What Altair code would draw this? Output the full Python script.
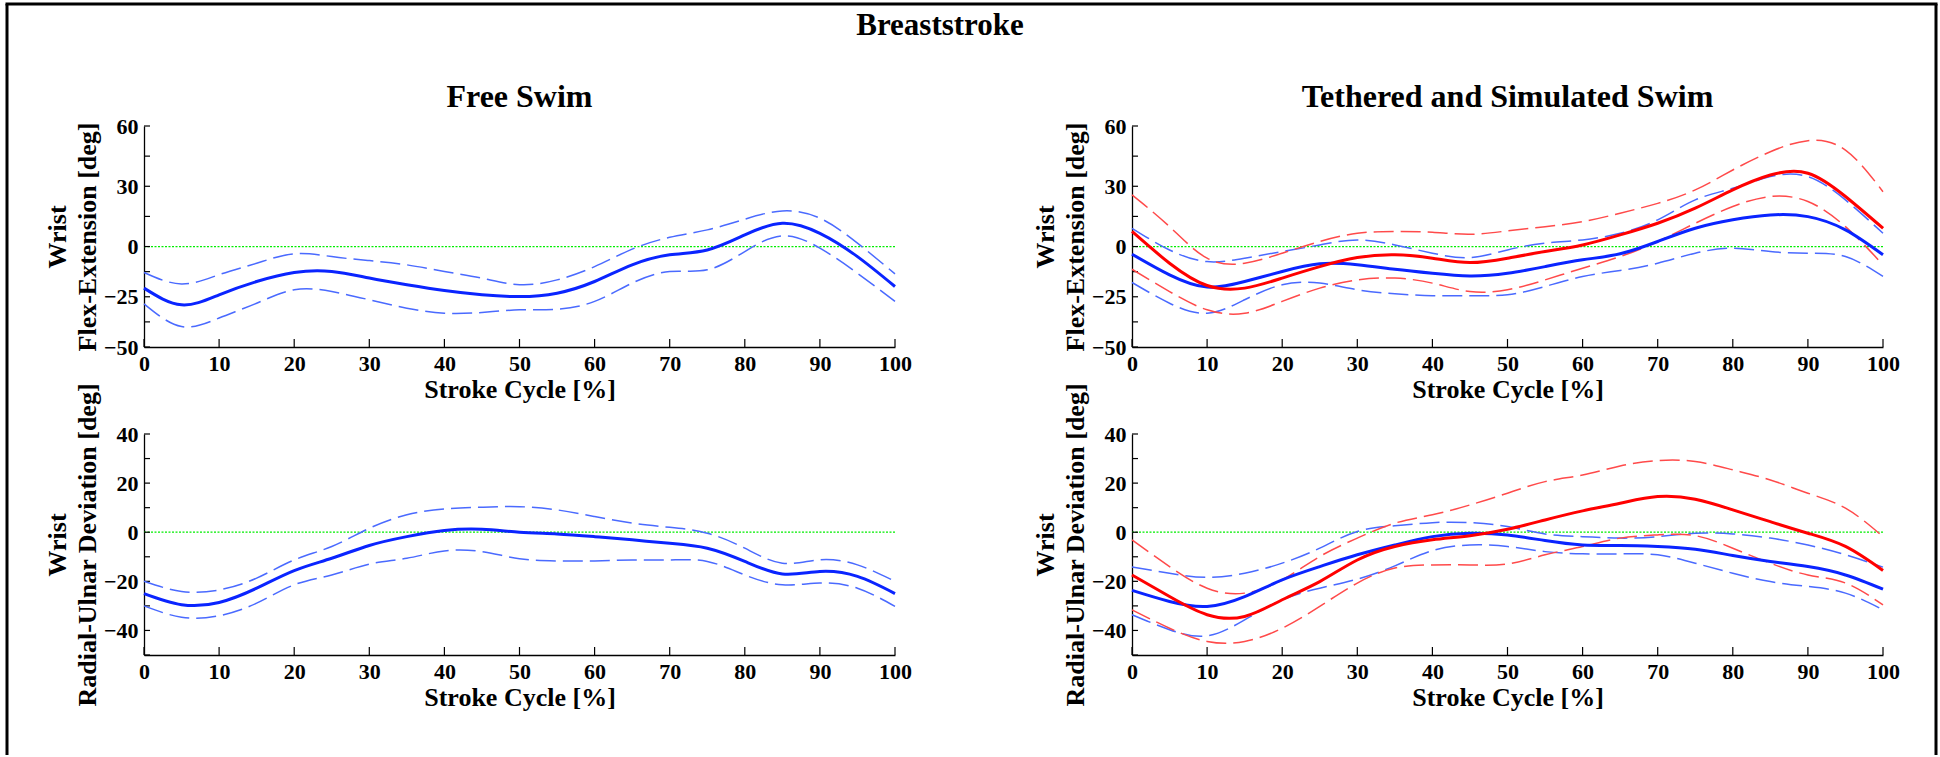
import altair as alt
import pandas as pd

# Stroke-cycle samples (percent of cycle)
STROKE = list(range(0, 101, 5))

# Free swim, wrist flexion-extension [deg]: mean and +/- SD band
fs_fe_mean = [-20.7, -29.0, -24.0, -17.4, -12.9, -12.4, -15.7, -19.0, -21.9, -24.0, -24.9,
              -23.2, -17.4, -9.1, -4.1, -1.7, 5.8, 11.6, 6.6, -5.0, -19.9]
fs_fe_upper = [-12.9, -18.6, -14.0, -8.3, -3.6, -5.0, -7.0, -9.1, -12.4, -15.7, -19.0,
               -16.6, -10.0, -1.3, 4.6, 8.3, 13.6, 17.7, 14.1, 1.7, -13.6]
fs_fe_lower = [-28.5, -39.8, -35.6, -28.2, -21.5, -22.4, -26.5, -30.7, -33.2, -32.8, -31.5,
               -31.2, -27.3, -18.2, -12.4, -11.6, -2.5, 5.3, -0.8, -13.3, -27.3]

# Tethered (blue) and simulated (red) swim, wrist flexion-extension [deg]
ts_fe_blue_mean = [-3.8, -14.1, -20.2, -17.4, -12.4, -8.6, -9.1, -11.3, -13.3, -14.6, -13.3,
                   -10.0, -6.6, -3.6, 2.5, 9.1, 13.3, 15.7, 14.9, 8.3, -4.1]
ts_fe_blue_upper = [9.1, -1.7, -7.5, -5.8, -2.5, 0.8, 3.3, 0.8, -3.3, -5.5, -1.7,
                    1.7, 3.3, 6.6, 13.3, 23.2, 29.0, 34.8, 34.8, 23.2, 6.6]
ts_fe_blue_lower = [-17.9, -28.2, -33.2, -26.5, -19.0, -18.2, -21.5, -23.5, -24.5, -24.5, -24.0,
                    -19.9, -14.9, -11.9, -8.3, -3.3, -0.8, -2.5, -3.3, -5.0, -14.9]
ts_fe_red_mean = [7.5, -8.3, -19.4, -20.7, -15.7, -10.0, -5.5, -4.1, -5.8, -8.0, -5.8,
                  -2.5, 0.8, 5.8, 11.6, 19.1, 28.2, 35.6, 36.5, 24.9, 9.1]
ts_fe_red_upper = [25.7, 9.9, -5.8, -8.3, -3.3, 2.5, 6.6, 7.5, 7.1, 6.1, 7.8,
                   9.9, 12.4, 16.6, 21.5, 28.2, 38.1, 47.2, 52.7, 48.0, 27.3]
ts_fe_red_lower = [-11.3, -22.4, -31.5, -33.2, -27.3, -20.7, -16.6, -15.7, -18.2, -22.4, -21.5,
                   -16.6, -10.8, -5.0, 2.5, 11.6, 19.9, 24.9, 22.4, 9.9, -9.1]

# Free swim, wrist radial-ulnar deviation [deg]
fs_ru_mean = [-25.0, -29.5, -28.6, -22.8, -15.6, -10.6, -5.4, -1.8, 0.7, 1.2, 0.0,
              -0.7, -1.8, -3.1, -4.5, -6.5, -11.9, -17.0, -16.0, -18.0, -25.0]
fs_ru_upper = [-20.0, -24.1, -23.5, -18.7, -11.3, -5.8, 1.6, 7.1, 9.5, 10.2, 10.4,
               9.1, 6.4, 3.7, 2.0, -0.4, -6.5, -12.6, -11.2, -13.3, -20.0]
fs_ru_lower = [-30.0, -34.6, -34.0, -28.9, -21.4, -17.4, -13.0, -10.6, -7.6, -7.9, -10.8,
               -11.7, -11.7, -11.3, -11.3, -11.9, -17.4, -21.4, -20.7, -22.8, -30.2]

# Tethered (blue) and simulated (red) swim, wrist radial-ulnar deviation [deg]
ts_ru_blue_mean = [-23.7, -28.2, -30.2, -26.2, -19.4, -14.0, -9.2, -5.2, -1.8, -0.4, -1.1,
                   -3.4, -5.2, -5.4, -5.8, -6.9, -9.5, -11.9, -14.0, -17.4, -23.2]
ts_ru_blue_upper = [-14.2, -16.7, -18.4, -16.7, -12.6, -6.5, 0.3, 2.6, 3.9, 3.9, 2.3,
                    -0.7, -1.8, -2.4, -1.8, -0.4, -0.7, -2.4, -5.2, -9.2, -14.2]
ts_ru_blue_lower = [-33.6, -39.7, -42.2, -35.7, -27.5, -22.8, -19.1, -13.7, -7.5, -5.2, -5.8,
                    -7.9, -8.8, -8.8, -9.2, -12.6, -16.7, -20.1, -22.1, -24.8, -31.6]
ts_ru_red_mean = [-17.4, -26.2, -33.6, -34.3, -27.5, -20.1, -11.3, -5.8, -3.1, -1.4, 1.2,
                  5.0, 8.7, 11.8, 14.5, 13.4, 9.1, 4.3, -0.4, -5.8, -15.6]
ts_ru_red_upper = [-3.1, -14.0, -22.8, -24.8, -19.4, -9.9, -2.4, 3.7, 7.1, 11.1, 15.9,
                   20.6, 23.3, 27.0, 29.2, 28.8, 25.4, 21.3, 15.9, 9.8, -1.8]
ts_ru_red_lower = [-31.6, -39.1, -44.5, -44.5, -39.1, -30.2, -20.7, -14.6, -13.3, -13.3, -12.9,
                   -9.2, -5.8, -2.4, -1.1, -1.4, -6.5, -12.6, -17.4, -20.7, -29.6]

# Axis ticks and labels
X_TICKS = list(range(0, 101, 10))
FE_DOMAIN = [-50, 60]
FE_LABELS = [60, 30, 0, -25, -50]
FE_TICKS = [60, 45, 30, 15, 0, -12.5, -25, -37.5, -50]
RU_DOMAIN = [-50, 40]
RU_LABELS = [40, 20, 0, -20, -40]
RU_TICKS = [40, 30, 20, 10, 0, -10, -20, -30, -40, -50]

FIGURE_TITLE = "Breaststroke"

FONT = "Liberation Serif"
W, H = 751, 221
BLUE, RED = "#0a24ff", "#ff0000"
BLUE_DASH, RED_DASH = "#4a6aff", "#ff4a4a"
ZERO_GREEN = "#00ee00"
DASH = [20, 7]


def long_table(series):
    rows = []
    for name, vals in series.items():
        for x, v in zip(STROKE, vals):
            rows.append({"cycle": x, "angle": v, "series": name})
    return pd.DataFrame(rows)


def panel(solid, dashed, ydomain, ylabels, yticks, ytitle, title=None, frame=False):
    xs = alt.Scale(domain=[0, 100], nice=False, zero=False)
    ys = alt.Scale(domain=ydomain, nice=False, zero=False)
    xaxis = alt.Axis(values=X_TICKS, ticks=False, tickSize=0, labelPadding=6,
                     labelFlush=False, title="Stroke Cycle [%]", titlePadding=2,
                     titleFontSize=26)
    yaxis = alt.Axis(values=ylabels, ticks=False, tickSize=0, labelPadding=6,
                     title=["Wrist", ytitle], titlePadding=3, titleLineHeight=30,
                     titleFontSize=26)
    X = lambda f: alt.X(f, type="quantitative", scale=xs, axis=xaxis)
    Y = lambda f: alt.Y(f, type="quantitative", scale=ys, axis=yaxis)

    layers = []
    # zero reference line
    layers.append(
        alt.Chart(pd.DataFrame({"z": [0]}))
        .mark_rule(color=ZERO_GREEN, strokeWidth=1.3, strokeDash=[2, 1.5])
        .encode(y=Y("z"))
    )
    # inward-pointing ticks
    layers.append(
        alt.Chart(pd.DataFrame({"t": X_TICKS}))
        .mark_rule(color="black", strokeWidth=1.2)
        .encode(x=X("t"), y=alt.value(H), y2=alt.value(H - 8))
    )
    layers.append(
        alt.Chart(pd.DataFrame({"t": yticks}))
        .mark_rule(color="black", strokeWidth=1.2)
        .encode(y=Y("t"), x=alt.value(0), x2=alt.value(6))
    )
    for series, color in dashed:
        layers.append(
            alt.Chart(long_table(series))
            .mark_line(color=color, strokeWidth=1.5, strokeDash=DASH, interpolate="natural")
            .encode(x=X("cycle"), y=Y("angle"), detail="series:N")
        )
    for series, color in solid:
        layers.append(
            alt.Chart(long_table(series))
            .mark_line(color=color, strokeWidth=3, interpolate="natural")
            .encode(x=X("cycle"), y=Y("angle"), detail="series:N")
        )
    if frame:
        # outer figure border (left, top, right edges) and the figure heading
        one = pd.DataFrame({"label": [FIGURE_TITLE]})
        border = alt.Chart(one).mark_rule(color="black", strokeWidth=3)
        layers.append(border.encode(x=alt.value(-137), y=alt.value(-430), y2=alt.value(321)))
        layers.append(border.encode(x=alt.value(1792), y=alt.value(-430), y2=alt.value(321)))
        layers.append(border.encode(y=alt.value(-430), x=alt.value(-138.5), x2=alt.value(1793.5)))
        layers.append(
            alt.Chart(one)
            .mark_text(font=FONT, fontSize=31, fontWeight="bold", color="black",
                       align="center", baseline="alphabetic")
            .encode(text="label:N", x=alt.value(796), y=alt.value(-399))
        )

    props = dict(width=W, height=H)
    if title:
        props["title"] = alt.TitleParams(title, frame="group", anchor="middle",
                                         baseline="alphabetic", offset=-24, fontSize=32)
    return alt.layer(*layers).properties(**props)


p_fs_fe = panel(
    solid=[({"mean": fs_fe_mean}, BLUE)],
    dashed=[({"upper": fs_fe_upper, "lower": fs_fe_lower}, BLUE_DASH)],
    ydomain=FE_DOMAIN, ylabels=FE_LABELS, yticks=FE_TICKS,
    ytitle="Flex-Extension [deg]", title="Free Swim",
)
p_ts_fe = panel(
    solid=[({"tethered": ts_fe_blue_mean}, BLUE), ({"simulated": ts_fe_red_mean}, RED)],
    dashed=[({"t_up": ts_fe_blue_upper, "t_lo": ts_fe_blue_lower}, BLUE_DASH),
            ({"s_up": ts_fe_red_upper, "s_lo": ts_fe_red_lower}, RED_DASH)],
    ydomain=FE_DOMAIN, ylabels=FE_LABELS, yticks=FE_TICKS,
    ytitle="Flex-Extension [deg]", title="Tethered and Simulated Swim",
)
p_fs_ru = panel(
    solid=[({"mean": fs_ru_mean}, BLUE)],
    dashed=[({"upper": fs_ru_upper, "lower": fs_ru_lower}, BLUE_DASH)],
    ydomain=RU_DOMAIN, ylabels=RU_LABELS, yticks=RU_TICKS,
    ytitle="Radial-Ulnar Deviation [deg]", frame=True,
)
p_ts_ru = panel(
    solid=[({"tethered": ts_ru_blue_mean}, BLUE), ({"simulated": ts_ru_red_mean}, RED)],
    dashed=[({"t_up": ts_ru_blue_upper, "t_lo": ts_ru_blue_lower}, BLUE_DASH),
            ({"s_up": ts_ru_red_upper, "s_lo": ts_ru_red_lower}, RED_DASH)],
    ydomain=RU_DOMAIN, ylabels=RU_LABELS, yticks=RU_TICKS,
    ytitle="Radial-Ulnar Deviation [deg]",
)

chart = (
    alt.concat(p_fs_fe, p_ts_fe, p_fs_ru, p_ts_ru, columns=2,
               spacing={"row": 87, "column": 237}, bounds="flush")
    .properties(
        padding={"left": 4, "top": 2, "right": 0, "bottom": 0},
        autosize=alt.AutoSizeParams(type="pad"),
        background="white",
    )
    .configure_view(stroke=None)
    .configure_axis(
        grid=False, domainColor="black", domainWidth=1.3,
        labelFont=FONT, labelFontSize=22, labelFontWeight="bold", labelColor="black",
        titleFont=FONT, titleFontSize=25, titleFontWeight="bold", titleColor="black",
    )
    .configure_title(font=FONT, fontSize=31, fontWeight="bold", color="black")
)

chart.save("out.html", embed_options={"renderer": "svg", "actions": False})
